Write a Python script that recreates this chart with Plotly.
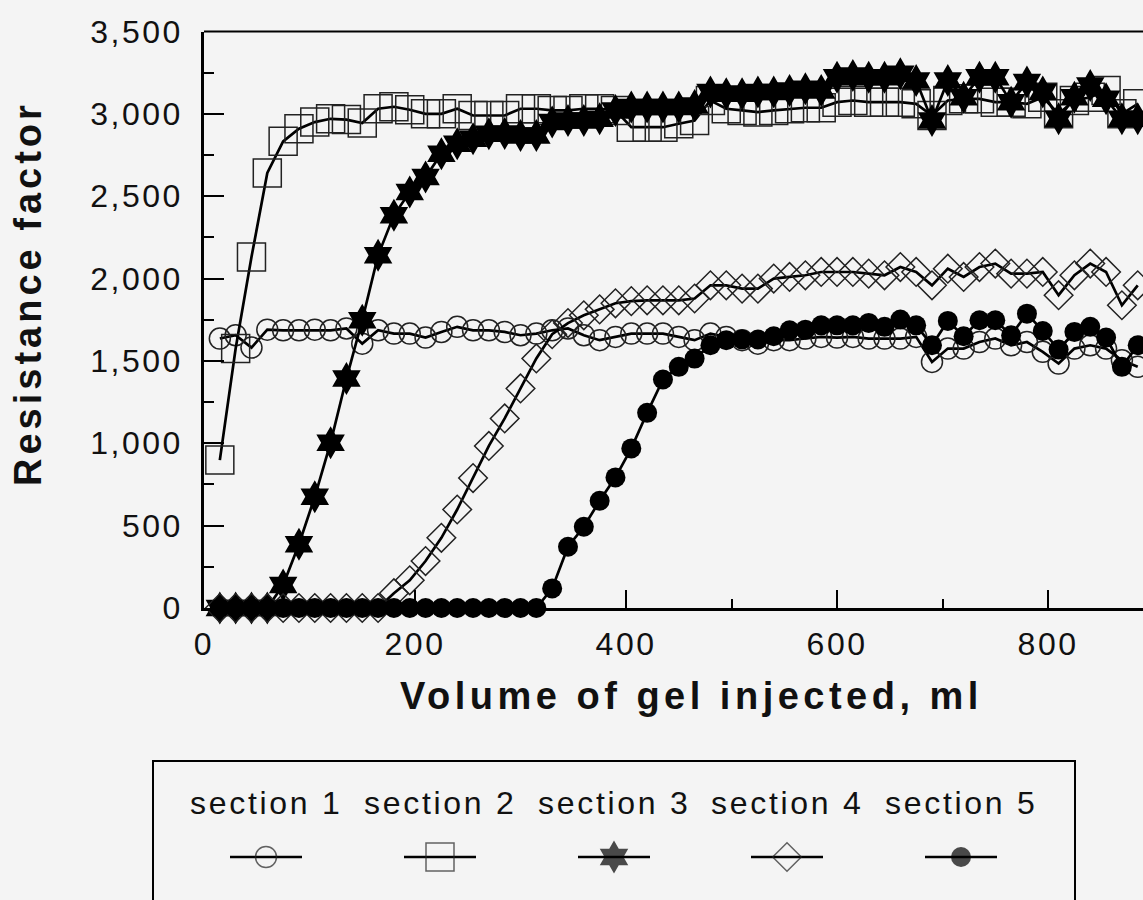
import plotly.graph_objects as go

# ---------------- data ----------------
volume_ml = [15, 30, 45, 60, 75, 90, 105, 120, 135, 150,
             165, 180, 195, 210, 225, 240, 255, 270, 285, 300,
             315, 330, 345, 360, 375, 390, 405, 420, 435, 450,
             465, 480, 495, 510, 525, 540, 555, 570, 585, 600,
             615, 630, 645, 660, 675, 690, 705, 720, 735, 750,
             765, 780, 795, 810, 825, 840, 855, 870, 885]

section1 = [1636, 1656, 1581, 1690, 1686, 1686, 1690, 1686, 1697, 1605,
            1686, 1666, 1666, 1642, 1676, 1707, 1686, 1686, 1676, 1656,
            1666, 1686, 1697, 1656, 1626, 1646, 1666, 1666, 1666, 1646,
            1626, 1666, 1646, 1626, 1605, 1626, 1626, 1636, 1646, 1642,
            1646, 1636, 1636, 1636, 1646, 1494, 1575, 1575, 1615, 1636,
            1595, 1615, 1555, 1484, 1575, 1595, 1575, 1504, 1464]

section2 = [898, 1575, 2131, 2641, 2833, 2910, 2950, 2970, 2965, 2944,
            3031, 3043, 3025, 3000, 3000, 3031, 2990, 2990, 2990, 3031,
            3031, 3021, 3021, 3031, 3031, 3021, 2919, 2919, 2919, 2940,
            2960, 3081, 3031, 3021, 3011, 3021, 3031, 3037, 3037, 3071,
            3081, 3071, 3071, 3071, 3061, 2990, 3081, 3091, 3091, 3071,
            3071, 3061, 3101, 3000, 3081, 3101, 3142, 3000, 3061]

section3 = [0, 0, 0, 0, 139, 387, 675, 1004, 1393, 1747,
            2141, 2384, 2525, 2616, 2758, 2819, 2849, 2879, 2880, 2869,
            2869, 2950, 2960, 2960, 2970, 3020, 3041, 3041, 3041, 3041,
            3051, 3132, 3122, 3122, 3132, 3132, 3142, 3152, 3142, 3223,
            3233, 3223, 3223, 3243, 3203, 2960, 3203, 3101, 3223, 3223,
            3071, 3193, 3132, 2970, 3101, 3172, 3091, 2970, 2970]

section4 = [0, 0, 0, 0, 0, 0, 0, 0, 0, 0,
            0, 90, 168, 285, 426, 598, 789, 984, 1151, 1333,
            1515, 1662, 1730, 1777, 1813, 1850, 1863, 1868, 1868, 1868,
            1879, 1959, 1959, 1939, 1939, 2000, 2010, 2020, 2040, 2040,
            2040, 2030, 2020, 2070, 2040, 1959, 2060, 2010, 2070, 2091,
            2030, 2030, 2040, 1899, 2020, 2091, 2040, 1838, 1959]

section5 = [0, 0, 0, 0, 0, 0, 0, 0, 0, 0,
            0, 0, 0, 0, 0, 0, 0, 0, 0, 0,
            0, 119, 372, 493, 651, 793, 969, 1185, 1387, 1464,
            1514, 1595, 1626, 1630, 1630, 1650, 1686, 1690, 1716, 1716,
            1716, 1731, 1707, 1751, 1716, 1595, 1743, 1650, 1747, 1747,
            1656, 1787, 1682, 1569, 1676, 1707, 1642, 1464, 1595]

series_names = ["section 1", "section 2", "section 3", "section 4", "section 5"]
y_tick_values = [0, 500, 1000, 1500, 2000, 2500, 3000, 3500]
y_tick_labels = ["0", "500", "1,000", "1,500", "2,000", "2,500", "3,000", "3,500"]
x_tick_values = [0, 200, 400, 600, 800]
x_tick_labels = ["0", "200", "400", "600", "800"]

# ---------------- styles ----------------
W, H = 1143, 900
BG = "#f4f4f4"
FONT = "Liberation Sans"
INK = "#111111"

styles = [
    dict(symbol="circle-open", size=21, color="#222222", lw=1.5),
    dict(symbol="square-open", size=28, color="#222222", lw=1.5),
    dict(symbol="hexagram", size=25, color="#000000", lw=0),
    dict(symbol="diamond-open", size=22, color="#222222", lw=1.5),
    dict(symbol="circle", size=20, color="#000000", lw=0),
]
all_series = [section1, section2, section3, section4, section5]

# main plot area in pixels
PL, PR, PT, PB = 204, 1143, 31.5, 608


def sp(txt, px):
    return '<span style="letter-spacing:%spx">%s</span>' % (px, txt)


fig = go.Figure()

for name, vals, st in zip(series_names, all_series, styles):
    fig.add_trace(go.Scatter(
        x=volume_ml, y=vals, name=name, mode="lines+markers",
        line=dict(color="#000000", width=2.7),
        marker=dict(symbol=st["symbol"], size=st["size"], color=st["color"],
                    line=dict(color=st["color"], width=st["lw"])),
        cliponaxis=False, showlegend=False,
        xaxis="x", yaxis="y",
    ))

# legend key samples (drawn on a hidden pixel-space axis pair)
leg_centers = [266, 440, 614, 787, 961]
leg_text_y = 803
leg_key_y = 857
for cx, st in zip(leg_centers, styles):
    fig.add_trace(go.Scatter(
        x=[cx - 36, cx, cx + 36], y=[leg_key_y] * 3, mode="lines+markers",
        line=dict(color="#000000", width=2.7),
        marker=dict(symbol=st["symbol"], size=[0, st["size"], 0],
                    color=st["color"],
                    line=dict(color=st["color"], width=[0, st["lw"], 0])),
        showlegend=False, hoverinfo="skip", xaxis="x2", yaxis="y2",
    ))

annotations = []
for cx, name in zip(leg_centers, series_names):
    annotations.append(dict(
        x=cx, y=leg_text_y, xref="x2", yref="y2", text=sp(name, 2.7),
        showarrow=False, xanchor="center", yanchor="middle",
        font=dict(family=FONT, size=32, color=INK)))

# axis titles
annotations.append(dict(
    x=691, y=696, xref="x2", yref="y2",
    text="<b>" + sp("Volume of gel injected, ml", 4.5) + "</b>",
    showarrow=False, xanchor="center", yanchor="middle",
    font=dict(family=FONT, size=38, color=INK)))
annotations.append(dict(
    x=28, y=294, xref="x2", yref="y2",
    text="<b>" + sp("Resistance factor", 4.0) + "</b>", textangle=-90,
    showarrow=False, xanchor="center", yanchor="middle",
    font=dict(family=FONT, size=38, color=INK)))

shapes = [
    # top frame line
    dict(type="line", xref="x domain", yref="y domain", x0=0, x1=1, y0=1, y1=1,
         line=dict(color="#000000", width=2.2)),
    # legend box
    dict(type="rect", xref="x2", yref="y2", x0=153, x1=1075, y0=761, y1=910,
         line=dict(color="#000000", width=2), layer="below"),
]

fig.update_layout(
    width=W, height=H,
    margin=dict(l=0, r=0, t=0, b=0, pad=0, autoexpand=False),
    paper_bgcolor=BG, plot_bgcolor="rgba(0,0,0,0)",
    showlegend=False,
    annotations=annotations, shapes=shapes,
    xaxis=dict(
        domain=[PL / W, PR / W], range=[0, 890], anchor="y", automargin=False,
        showline=True, linecolor="#000000", linewidth=2.5,
        showgrid=False, zeroline=False,
        tickmode="array", tickvals=x_tick_values,
        ticktext=[sp(t, 2.5) for t in x_tick_labels],
        ticks="inside", ticklen=18, tickwidth=1.5, tickcolor="#000000",
        minor=dict(dtick=100, tick0=0, ticks="inside", ticklen=9,
                   tickwidth=1.5, tickcolor="#000000", showgrid=False),
        tickfont=dict(family=FONT, size=32, color=INK),
        ticklabelstandoff=6,
    ),
    yaxis=dict(
        domain=[(H - PB) / H, (H - PT) / H], range=[0, 3500], anchor="x",
        automargin=False,
        showline=True, linecolor="#000000", linewidth=2.5,
        showgrid=False, zeroline=False,
        tickmode="array", tickvals=y_tick_values,
        ticktext=[sp(t, 2.5) for t in y_tick_labels],
        ticks="inside", ticklen=20, tickwidth=1.5, tickcolor="#000000",
        minor=dict(dtick=250, tick0=0, ticks="inside", ticklen=10,
                   tickwidth=1.5, tickcolor="#000000", showgrid=False),
        tickfont=dict(family=FONT, size=32, color=INK),
        ticklabelstandoff=12,
    ),
    xaxis2=dict(domain=[0, 1], range=[0, W], anchor="y2", visible=False,
                fixedrange=True, automargin=False),
    yaxis2=dict(domain=[0, 1], range=[H, 0], anchor="x2", visible=False,
                fixedrange=True, automargin=False),
)

fig.write_html("out.html")
